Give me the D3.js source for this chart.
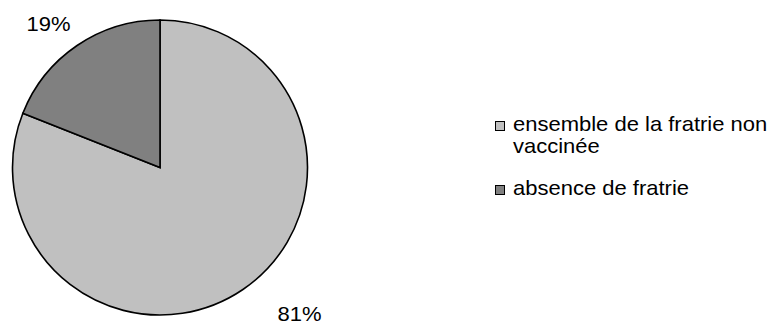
<!DOCTYPE html>
<html>
<head>
<meta charset="utf-8">
<script src="https://cdn.jsdelivr.net/npm/d3@7"></script>
<style>
  html, body { margin: 0; padding: 0; background: #fff; }
  svg { display: block; }
  text { font-family: "Liberation Sans", Arial, sans-serif; fill: #000; }
</style>
</head>
<body>
<svg id="chart" width="769" height="325"></svg>
<script>
// Share of cases by sibling vaccination status
const categories = ["ensemble de la fratrie non vaccinée", "absence de fratrie"];
const values = [81, 19];
const valueLabels = ["81%", "19%"];
const colors = ["#C0C0C0", "#808080"];
// legend text broken into lines
const legendLines = [["ensemble de la fratrie non", "vaccinée"], ["absence de fratrie"]];

const svg = d3.select("#chart");
const cx = 160, cy = 167.5, r = 147.5;
const fontSize = 20, stretch = 1.1; // slightly wide type

const pie = d3.pie().sort(null).value(d => d);
const arcs = pie(values);
const arc = d3.arc().innerRadius(0).outerRadius(r);

const g = svg.append("g").attr("transform", `translate(${cx},${cy})`);

g.selectAll("path.slice")
  .data(arcs)
  .enter().append("path")
  .attr("class", "slice")
  .attr("d", arc)
  .attr("fill", (d, i) => colors[i])
  .attr("stroke", "#000")
  .attr("stroke-width", 1.6)
  .attr("stroke-linejoin", "miter");

// value labels just outside the rim, pulled toward the horizontal edge
const labelArc = d3.arc().innerRadius(r * 1.2).outerRadius(r * 1.2);
const labelNudge = [[40, 0], [-12, 3]];
g.selectAll("text.val")
  .data(arcs)
  .enter().append("text")
  .attr("class", "val")
  .attr("transform", (d, i) => {
    const [x, y] = labelArc.centroid(d);
    return `translate(${x + labelNudge[i][0]},${y + labelNudge[i][1]}) scale(${stretch},1)`;
  })
  .attr("text-anchor", "middle")
  .attr("dominant-baseline", "central")
  .style("font-size", fontSize + "px")
  .text((d, i) => valueLabels[i]);

// legend
const legend = svg.append("g").attr("transform", "translate(495,0)");
const itemTop = [121, 185];
const lineH = 22;
categories.forEach((c, i) => {
  const it = legend.append("g").attr("transform", `translate(0,${itemTop[i]})`);
  it.append("rect")
    .attr("x", 0.5).attr("y", 0.5)
    .attr("width", 9).attr("height", 9)
    .attr("fill", colors[i])
    .attr("stroke", "#000")
    .attr("stroke-width", 1);
  legendLines[i].forEach((ln, j) => {
    it.append("text")
      .attr("transform", `translate(18,${10 + j * lineH}) scale(${stretch},1)`)
      .style("font-size", fontSize + "px")
      .text(ln);
  });
});
</script>
</body>
</html>
